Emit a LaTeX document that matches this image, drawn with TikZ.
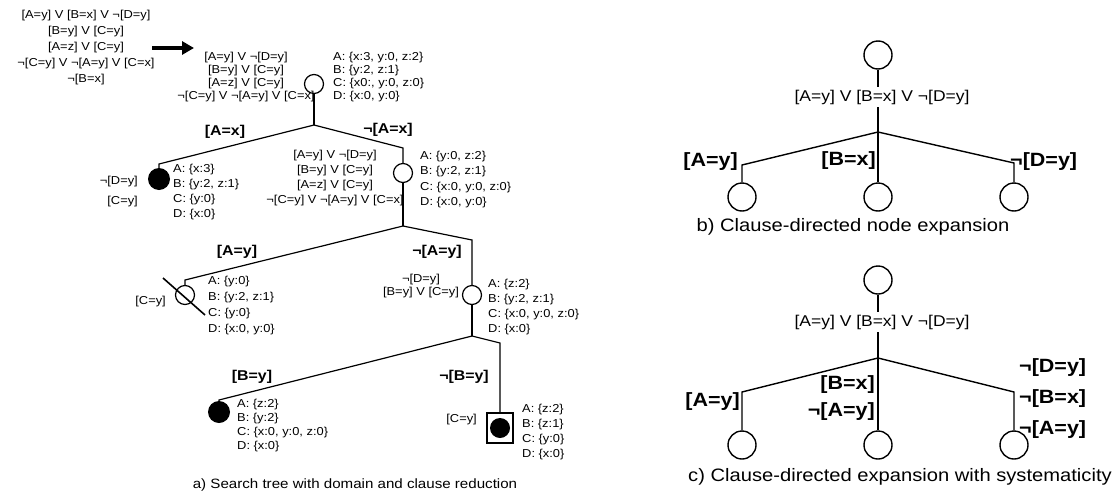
\documentclass[tikz,border=0pt]{standalone}
\usepackage{fontspec}
\setmainfont{Liberation Sans}[FakeStretch=1.12]
\usetikzlibrary{arrows.meta}
\begin{document}
\begin{tikzpicture}[x=1pt,y=-1pt,
  txtsp/.style={font=\fontsize{11.5}{#1}\selectfont, inner sep=0pt},
  lbl/.style={font=\fontsize{14.2}{16}\selectfont\bfseries, inner sep=0pt},
  rtxt/.style={font=\fontsize{15.6}{18}\selectfont, inner xsep=0pt, inner ysep=3pt},
  rlbl/.style={font=\fontsize{19.2}{#1}\selectfont\bfseries, inner sep=0pt},
  cap/.style={font=\fontsize{#1}{#1}\selectfont, inner sep=0pt},
  opencirc/.style={circle, draw, line width=1.2pt, minimum size=19pt, inner sep=0pt},
  fillcirc/.style={circle, fill=black, minimum size=22pt, inner sep=0pt},
  bigcirc/.style={circle, draw, line width=1.4pt, minimum size=28pt, inner sep=0pt},
  edge/.style={line width=1.2pt},
  redge/.style={line width=1.4pt}]
\useasboundingbox (0,0) rectangle (1118,498);
\fill[white] (0,0) rectangle (1118,498);

% ---------- (a) search tree ----------
\node[txtsp=16, align=center] (given) at (86,48) {[A=y] V [B=x] V ¬[D=y]\\{}[B=y] V [C=y]\\{}[A=z] V [C=y]\\{}¬[C=y] V ¬[A=y] V [C=x]\\{}¬[B=x]};
\coordinate (arS) at (152,48);
\coordinate (arE) at (194,48);
\draw[line width=3.5pt, -{Triangle[length=12pt,width=13pt]}] (arS) -- (arE);

% root
\node[opencirc] (root) at (314,84) {};
\node[txtsp=12.7, align=center] (rootc) at (246,77) {[A=y] V ¬[D=y]\\{}[B=y] V [C=y]\\{}[A=z] V [C=y]\\{}¬[C=y] V ¬[A=y] V [C=x]};
\node[txtsp=13, align=left, anchor=west] (rootd) at (333,77.5) {A: \{x:3, y:0, z:2\}\\{}B: \{y:2, z:1\}\\{}C: \{x0:, y:0, z:0\}\\{}D: \{x:0, y:0\}};
\coordinate (rB) at (314,125);

% left child of root (filled)
\node[fillcirc] (f1) at (159,179) {};
\coordinate (f1k) at (159,164);
\node[txtsp=20, align=right, anchor=east] (f1c) at (138,192) {¬[D=y]\\{}[C=y]};
\node[txtsp=15.3, align=left, anchor=west] (f1d) at (173,192) {A: \{x:3\}\\{}B: \{y:2, z:1\}\\{}C: \{y:0\}\\{}D: \{x:0\}};

% right child of root
\node[opencirc] (c2) at (403,173) {};
\coordinate (c2k) at (403,148);
\node[txtsp=14.7, align=center] (c2c) at (335,178) {[A=y] V ¬[D=y]\\{}[B=y] V [C=y]\\{}[A=z] V [C=y]\\{}¬[C=y] V ¬[A=y] V [C=x]};
\node[txtsp=15.5, align=left, anchor=west] (c2d) at (420,179.5) {A: \{y:0, z:2\}\\{}B: \{y:2, z:1\}\\{}C: \{x:0, y:0, z:0\}\\{}D: \{x:0, y:0\}};
\coordinate (c2B) at (403,226);

\node[lbl] (lAx) at (225,132) {[A=x]};
\node[lbl] (lnAx) at (388,130) {¬[A=x]};

% crossed node
\node[opencirc] (c3) at (185,295) {};
\coordinate (c3k) at (185,280);
\node[txtsp=14, anchor=east] (c3c) at (166,302) {[C=y]};
\node[txtsp=16, align=left, anchor=west] (c3d) at (208,306) {A: \{y:0\}\\{}B: \{y:2, z:1\}\\{}C: \{y:0\}\\{}D: \{x:0, y:0\}};
\coordinate (xA) at (163,278);
\coordinate (xB) at (205,315);

% node c4
\node[opencirc] (c4) at (472,295) {};
\coordinate (c4k) at (472,240);
\node[txtsp=13, align=center] (c4c) at (421,286.5) {¬[D=y]\\{}[B=y] V [C=y]};
\node[txtsp=15, align=left, anchor=west] (c4d) at (488,307.5) {A: \{z:2\}\\{}B: \{y:2, z:1\}\\{}C: \{x:0, y:0, z:0\}\\{}D: \{x:0\}};
\coordinate (c4B) at (472,336);

\node[lbl] (lAy) at (237,252) {[A=y]};
\node[lbl] (lnAy) at (437,252) {¬[A=y]};

% node f5
\node[fillcirc] (f5) at (219,412) {};
\coordinate (f5k) at (219,400);
\node[txtsp=14, align=left, anchor=west] (f5d) at (237,426) {A: \{z:2\}\\{}B: \{y:2\}\\{}C: \{x:0, y:0, z:0\}\\{}D: \{x:0\}};

% node f6 in square
\node[draw, line width=1.1pt, minimum width=26pt, minimum height=30pt, inner sep=0pt] (sq) at (500,428) {};
\node[fillcirc, minimum size=20pt] (f6) at (500,428) {};
\coordinate (f6k) at (500,343);
\node[txtsp=14, anchor=east] (f6c) at (477,420) {[C=y]};
\node[txtsp=14.7, align=left, anchor=west] (f6d) at (522,432) {A: \{z:2\}\\{}B: \{z:1\}\\{}C: \{y:0\}\\{}D: \{x:0\}};

\node[lbl] (lBy) at (252,377) {[B=y]};
\node[lbl] (lnBy) at (464,377) {¬[B=y]};

% edges
\draw[edge] (root) -- (rB);
\draw[edge] (rB) -- (f1k) -- (f1);
\draw[edge] (rB) -- (c2k) -- (c2);
\draw[edge] (c2) -- (c2B);
\draw[edge] (c2B) -- (c3k) -- (c3);
\draw[edge] (c2B) -- (c4k) -- (c4);
\draw[edge] (c4) -- (c4B);
\draw[edge] (c4B) -- (f5k) -- (f5);
\draw[edge] (c4B) -- (f6k) -- (sq);
\draw[line width=1.6pt] (xA) -- (xB);

\node[cap=13.5] (capa) at (355,485) {a) Search tree with domain and clause reduction};

% ---------- (b) ----------
\node[bigcirc] (tb) at (878,55) {};
\node[rtxt] (tbt) at (882,97) {[A=y] V [B=x] V ¬[D=y]};
\coordinate (bb) at (878,132);
\node[bigcirc] (bl) at (742,197) {};
\node[bigcirc] (bm) at (878,197) {};
\node[bigcirc] (br) at (1014,197) {};
\coordinate (blk) at (742,165);
\coordinate (brk) at (1014,163);
\draw[redge] (tb) -- (tb |- tbt.north);
\draw[redge] (tb |- tbt.south) -- (bb);
\draw[redge] (bb) -- (blk) -- (bl);
\draw[redge] (bb) -- (bm);
\draw[redge] (bb) -- (brk) -- (br);
\node[rlbl=22, anchor=east] (bAy) at (738,162) {[A=y]};
\node[rlbl=22, anchor=east] (bBx) at (876,161) {[B=x]};
\node[rlbl=22, anchor=west] (bnDy) at (1010,162) {¬[D=y]};
\node[cap=18] (capb) at (853,227) {b) Clause-directed node expansion};

% ---------- (c) ----------
\node[bigcirc] (tc) at (878,280) {};
\node[rtxt] (tct) at (882,322) {[A=y] V [B=x] V ¬[D=y]};
\coordinate (cb) at (878,358);
\node[bigcirc] (cl) at (742,445) {};
\node[bigcirc] (cm) at (878,445) {};
\node[bigcirc] (cr) at (1014,445) {};
\coordinate (clk) at (742,392);
\coordinate (crk) at (1014,392);
\draw[redge] (tc) -- (tc |- tct.north);
\draw[redge] (tc |- tct.south) -- (cb);
\draw[redge] (cb) -- (clk) -- (cl);
\draw[redge] (cb) -- (cm);
\draw[redge] (cb) -- (crk) -- (cr);
\node[rlbl=22, anchor=east] (cAy) at (740,402) {[A=y]};
\node[rlbl=27, align=right, anchor=east] (cBx) at (875,398.5) {[B=x]\\{}¬[A=y]};
\node[rlbl=31, align=left, anchor=west] (cnD) at (1019,399) {¬[D=y]\\{}¬[B=x]\\{}¬[A=y]};
\node[cap=18] (capc) at (900,477) {c) Clause-directed expansion with systematicity};
\end{tikzpicture}
\end{document}
